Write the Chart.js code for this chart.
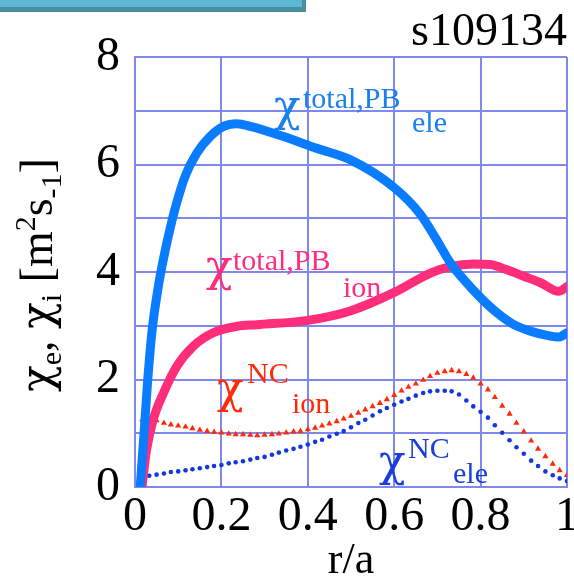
<!DOCTYPE html>
<html>
<head>
<meta charset="utf-8">
<script src="https://cdn.jsdelivr.net/npm/chart.js@4.4.1/dist/chart.umd.min.js"></script>
<style>
  html, body { margin: 0; padding: 0; background: #ffffff; }
  #wrap { width: 574px; height: 583px; position: relative; }
</style>
</head>
<body>
<div id="wrap"><canvas id="chart" width="574" height="583"></canvas></div>
<script>
// Tick labels
const xTickLabels = ['0', '0.2', '0.4', '0.6', '0.8', '1'];
const yTickLabels = ['0', '', '2', '', '4', '', '6', '', '8'];

// Total (Pseudo-Bohm) electron diffusivity
const rTotalEle = [0.012, 0.021, 0.029, 0.039, 0.054, 0.066, 0.081, 0.097, 0.116, 0.143,
                   0.174, 0.205, 0.236, 0.267, 0.344, 0.421, 0.498, 0.600, 0.660, 0.699,
                   0.730, 0.761, 0.800, 0.838, 0.877, 0.915, 0.954, 0.981, 1.000];
const chiTotalEle = [0.00, 1.01, 1.94, 2.87, 3.73, 4.25, 4.80, 5.30, 5.78, 6.21,
                     6.52, 6.71, 6.76, 6.71, 6.52, 6.30, 6.09, 5.57, 5.08, 4.59,
                     4.17, 3.86, 3.52, 3.24, 3.02, 2.90, 2.82, 2.79, 2.87];

// Total (Pseudo-Bohm) ion diffusivity
const rTotalIon = [0.016, 0.027, 0.042, 0.066, 0.097, 0.135, 0.181, 0.236, 0.282, 0.400,
                   0.500, 0.600, 0.684, 0.730, 0.783, 0.822, 0.861, 0.900, 0.939, 0.981, 1.000];
const chiTotalIon = [0.00, 0.70, 1.25, 1.75, 2.25, 2.62, 2.87, 2.99, 3.02, 3.10,
                     3.28, 3.62, 3.98, 4.10, 4.15, 4.14, 4.04, 3.92, 3.80, 3.64, 3.73];

// Neoclassical profiles, sampled on the transport grid
const rNC = [0.017, 0.033, 0.050, 0.067, 0.083, 0.100, 0.117, 0.133, 0.150, 0.167,
             0.183, 0.200, 0.217, 0.233, 0.250, 0.267, 0.283, 0.300, 0.317, 0.333,
             0.350, 0.367, 0.383, 0.400, 0.417, 0.433, 0.450, 0.467, 0.483, 0.500,
             0.517, 0.533, 0.550, 0.567, 0.583, 0.600, 0.617, 0.633, 0.650, 0.667,
             0.683, 0.700, 0.717, 0.733, 0.750, 0.767, 0.783, 0.800, 0.817, 0.833,
             0.850, 0.867, 0.883, 0.900, 0.917, 0.933, 0.950, 0.967, 0.983, 1.000];
const chiNCIon = [1.25, 1.25, 1.24, 1.19, 1.16, 1.14, 1.12, 1.09, 1.06, 1.04,
                  1.02, 1.01, 0.99, 0.98, 0.98, 0.97, 0.96, 0.97, 0.98, 0.99,
                  1.01, 1.03, 1.04, 1.07, 1.10, 1.14, 1.18, 1.22, 1.27, 1.32,
                  1.38, 1.44, 1.50, 1.56, 1.63, 1.71, 1.79, 1.86, 1.92, 1.99,
                  2.06, 2.12, 2.15, 2.17, 2.15, 2.10, 2.03, 1.92, 1.81, 1.67,
                  1.51, 1.36, 1.19, 1.03, 0.86, 0.71, 0.57, 0.43, 0.31, 0.22];
const chiNCEle = [0.20, 0.21, 0.23, 0.25, 0.28, 0.29, 0.31, 0.33, 0.35, 0.37,
                  0.39, 0.41, 0.44, 0.46, 0.48, 0.51, 0.54, 0.56, 0.60, 0.64,
                  0.68, 0.71, 0.75, 0.79, 0.84, 0.88, 0.94, 0.99, 1.04, 1.11,
                  1.19, 1.25, 1.33, 1.41, 1.47, 1.53, 1.59, 1.64, 1.70, 1.75,
                  1.78, 1.79, 1.79, 1.78, 1.72, 1.61, 1.50, 1.40, 1.29, 1.15,
                  1.01, 0.87, 0.74, 0.62, 0.49, 0.39, 0.29, 0.22, 0.16, 0.11];

const SERIF = '"Liberation Serif", "Times New Roman", serif';
const GREEK = '"DejaVu Serif", serif';
const GRID = '#7f88ee';

const pairs = (xs, ys) => xs.map((x, i) => ({ x: x, y: ys[i] }));

// Draws a chi symbol followed by a superscript and a subscript
function drawChi(ctx, x, base, color, sup, supX, supBase, sub, subX, subBase) {
  ctx.save();
  ctx.fillStyle = color;
  ctx.textBaseline = 'alphabetic';
  ctx.textAlign = 'left';
  ctx.font = '44px ' + GREEK;
  ctx.fillText('\u03c7', x, base);
  ctx.font = '30px ' + SERIF;
  ctx.fillText(sup, supX, supBase);
  ctx.fillText(sub, subX, subBase);
  ctx.restore();
}

const decorations = {
  id: 'decorations',
  afterDraw(chart) {
    const ctx = chart.ctx;
    ctx.save();
    // header bar in the top-left corner
    ctx.fillStyle = '#4a8e9f';
    ctx.fillRect(0, 0, 306, 12);
    ctx.fillStyle = '#5db9d3';
    ctx.fillRect(0, 0, 302, 7);

    // shot number
    ctx.fillStyle = '#000';
    ctx.font = '46px ' + SERIF;
    ctx.textAlign = 'right';
    ctx.textBaseline = 'alphabetic';
    ctx.fillText('s109134', 567, 45);

    // curve labels
    drawChi(ctx, 274, 121, '#1a7ff0', 'total,PB', 303, 108, 'ele', 412, 132);
    drawChi(ctx, 206, 281, '#ff2d7d', 'total,PB', 233, 270, 'ion', 343, 297);
    drawChi(ctx, 217, 403, '#ff2a0a', 'NC', 247, 383, 'ion', 292, 413);
    drawChi(ctx, 379, 476, '#1a3fd8', 'NC', 408, 458, 'ele', 453, 483);

    // y-axis title, rotated
    ctx.translate(52, 275);
    ctx.rotate(-Math.PI / 2);
    const parts = [
      ['\u03c7', 44, 0, GREEK], ['e', 30, 9, SERIF], [', ', 46, 0, SERIF],
      ['\u03c7', 44, 0, GREEK], ['i', 30, 9, SERIF], [' [m', 46, 0, SERIF],
      ['2', 30, -17, SERIF], ['s', 46, 0, SERIF], ['-1', 30, 9, SERIF], [']', 46, 0, SERIF]
    ];
    let total = 0;
    for (const p of parts) { ctx.font = p[1] + 'px ' + p[3]; total += ctx.measureText(p[0]).width; }
    let cx = -total / 2;
    ctx.fillStyle = '#000';
    ctx.textAlign = 'left';
    for (const p of parts) {
      ctx.font = p[1] + 'px ' + p[3];
      ctx.fillText(p[0], cx, p[2]);
      cx += ctx.measureText(p[0]).width;
    }
    ctx.restore();
  }
};

new Chart(document.getElementById('chart'), {
  type: 'scatter',
  data: {
    datasets: [
      {
        label: 'chi total ele',
        data: pairs(rTotalEle, chiTotalEle),
        showLine: true,
        borderColor: '#0a7cff',
        borderWidth: 9,
        pointRadius: 0,
        cubicInterpolationMode: 'monotone',
        borderCapStyle: 'round',
        order: 1
      },
      {
        label: 'chi total ion',
        data: pairs(rTotalIon, chiTotalIon),
        showLine: true,
        borderColor: '#ff2d7a',
        borderWidth: 9,
        pointRadius: 0,
        cubicInterpolationMode: 'monotone',
        borderCapStyle: 'round',
        order: 2
      },
      {
        label: 'chi NC ion',
        data: pairs(rNC, chiNCIon),
        showLine: false,
        pointStyle: 'triangle',
        pointRadius: 3.6,
        pointBorderWidth: 0,
        backgroundColor: '#ff2a0a',
        borderColor: '#ff2a0a',
        order: 3
      },
      {
        label: 'chi NC ele',
        data: pairs(rNC, chiNCEle),
        showLine: false,
        pointStyle: 'circle',
        pointRadius: 2.3,
        pointBorderWidth: 0,
        backgroundColor: '#1436e0',
        borderColor: '#1436e0',
        order: 4
      }
    ]
  },
  options: {
    responsive: false,
    animation: false,
    events: [],
    layout: { padding: { left: 0, top: 57, right: 7, bottom: 0 } },
    plugins: { legend: { display: false }, tooltip: { enabled: false } },
    scales: {
      x: {
        type: 'linear',
        min: 0, max: 1,
        afterFit: s => { s.height = 96; s.paddingLeft = 0; s.paddingRight = 0; },
        afterBuildTicks: s => { s.ticks = xTickLabels.map((t, i) => ({ value: i * 0.2 })); },
        ticks: {
          callback: (v, i) => xTickLabels[i],
          color: '#000',
          font: { family: SERIF, size: 48, lineHeight: 1 },
          padding: 6,
          maxRotation: 0,
          autoSkip: false
        },
        grid: { color: GRID, lineWidth: 2, drawTicks: false },
        border: { color: GRID, width: 2 },
        title: {
          display: true,
          text: 'r/a',
          color: '#000',
          font: { family: SERIF, size: 44, lineHeight: 1 },
          padding: { top: 0, bottom: 0 }
        }
      },
      y: {
        type: 'linear',
        min: 0, max: 8,
        afterFit: s => { s.width = 135; s.paddingTop = 0; s.paddingBottom = 0; },
        ticks: {
          stepSize: 1,
          callback: (v, i) => yTickLabels[i],
          color: '#000',
          font: { family: SERIF, size: 48, lineHeight: 1 },
          padding: 15,
          autoSkip: false
        },
        grid: { color: GRID, lineWidth: 2, drawTicks: false },
        border: { color: GRID, width: 2 }
      }
    }
  },
  plugins: [decorations]
});
</script>
</body>
</html>
